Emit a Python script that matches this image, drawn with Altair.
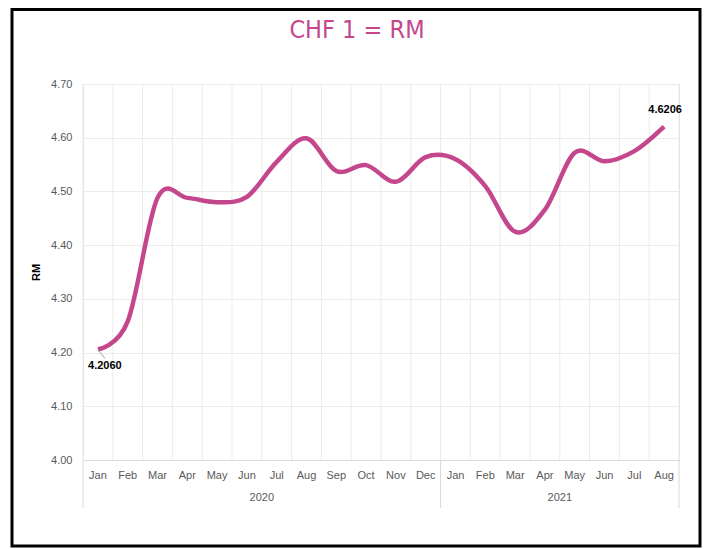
import altair as alt
import pandas as pd

months = ["Jan", "Feb", "Mar", "Apr", "May", "Jun", "Jul", "Aug", "Sep", "Oct", "Nov", "Dec",
          "Jan", "Feb", "Mar", "Apr", "May", "Jun", "Jul", "Aug"]
years = ["2020"] * 12 + ["2021"] * 8
values = [4.2060, 4.258, 4.488, 4.488, 4.480, 4.490, 4.555, 4.599, 4.538, 4.549, 4.518, 4.564,
          4.560, 4.510, 4.425, 4.466, 4.572, 4.556, 4.575, 4.6206]
y_ticks = [4.00, 4.10, 4.20, 4.30, 4.40, 4.50, 4.60, 4.70]
year_names = ["2020", "2021"]
title_text = "CHF 1 = RM"

PINK = "#C4478D"
GRID = "#EBEBEB"
AXIS = "#D9D9D9"
TXT = "#595959"
FONT = "Liberation Sans"

idx = list(range(len(months)))
df = pd.DataFrame({"i": idx, "month": months, "year": years, "value": values})

bounds = pd.DataFrame({"b": [i - 0.5 for i in range(len(months) + 1)]})
sep_idx = [-0.5] + [i - 0.5 for i in range(1, len(years)) if years[i] != years[i - 1]] + [len(years) - 0.5]
seps = pd.DataFrame({"b": sep_idx})
yr = pd.DataFrame({
    "year": year_names,
    "c": [(min(i for i in idx if years[i] == y) + max(i for i in idx if years[i] == y)) / 2 for y in year_names],
})

xscale = alt.Scale(domain=[-0.5, len(months) - 0.5], nice=False, zero=False)
yscale = alt.Scale(domain=[4.0, 4.7], nice=False, zero=False)

x_enc = alt.X("i:Q", scale=xscale, axis=alt.Axis(
    values=idx, labels=False, title=None, grid=False, ticks=False,
    domainColor=AXIS, domainWidth=1))
y_enc = alt.Y("value:Q", scale=yscale, axis=alt.Axis(
    values=y_ticks, format=".2f", title="RM", titleFont=FONT, titleFontSize=11,
    titleFontWeight="bold", titleColor="#000000", titlePadding=9,
    grid=True, gridColor=GRID, domain=False, ticks=False,
    labelColor=TXT, labelFont=FONT, labelFontSize=11, labelPadding=11))

vgrid = alt.Chart(bounds).mark_rule(color=GRID, strokeWidth=1).encode(
    x=alt.X("b:Q", scale=xscale), y=alt.datum(4.7), y2=alt.datum(4.0))

sepl = alt.Chart(seps).mark_rule(color=AXIS, strokeWidth=1).encode(
    x=alt.X("b:Q", scale=xscale), y=alt.value(376), y2=alt.value(424))

line = alt.Chart(df).mark_line(color=PINK, strokeWidth=4.5, interpolate="cardinal").encode(
    x=x_enc, y=y_enc)

mon_text = alt.Chart(df).mark_text(font=FONT, fontSize=11, color=TXT, baseline="middle").encode(
    x=alt.X("i:Q", scale=xscale), y=alt.value(392), text="month:N")

ends = df.iloc[[0, -1]].copy()
ends["lab"] = ends["value"].map(lambda v: "%.4f" % v)

first_lab = alt.Chart(ends.iloc[[0]]).mark_text(
    font=FONT, fontSize=11, fontWeight="bold", color="#000000", dx=7, dy=17).encode(
    x=alt.X("i:Q", scale=xscale), y=alt.Y("value:Q", scale=yscale), text="lab:N")
leader = alt.Chart(ends.iloc[[0]]).mark_point(
    shape="M0,0L0.78,1", size=324, filled=False, stroke="#A6A6A6", strokeWidth=1, opacity=1).encode(
    x=alt.X("i:Q", scale=xscale), y=alt.Y("value:Q", scale=yscale))
last_lab = alt.Chart(ends.iloc[[1]]).mark_text(
    font=FONT, fontSize=11, fontWeight="bold", color="#000000", dx=1, dy=-17).encode(
    x=alt.X("i:Q", scale=xscale), y=alt.Y("value:Q", scale=yscale), text="lab:N")

yr_text = alt.Chart(yr).mark_text(font=FONT, fontSize=11, color=TXT, baseline="middle").encode(
    x=alt.X("c:Q", scale=xscale), y=alt.value(414), text="year:N")

title = alt.Chart(pd.DataFrame({"t": [title_text]})).mark_text(
    font="DejaVu Sans Condensed, Roboto", fontSize=25, color=PINK, baseline="middle", align="center").encode(
    x=alt.value(274), y=alt.value(-54), text="t:N")

frame = alt.Chart(pd.DataFrame({"k": [0]})).mark_rect(
    filled=False, stroke="#000000", strokeWidth=3).encode(
    x=alt.value(-71), x2=alt.value(617), y=alt.value(-74.5), y2=alt.value(462))

chart = alt.layer(vgrid, sepl, line, leader, first_lab, last_lab, mon_text, yr_text, title, frame).properties(
    width=596, height=376,
    autosize=alt.AutoSizeParams(type="none"),
    padding={"left": 75, "top": 76, "right": 23, "bottom": 89},
).configure_view(stroke=GRID, strokeWidth=1).configure(background="white")

chart.save("out.html", embed_options={"renderer": "svg", "actions": False})
